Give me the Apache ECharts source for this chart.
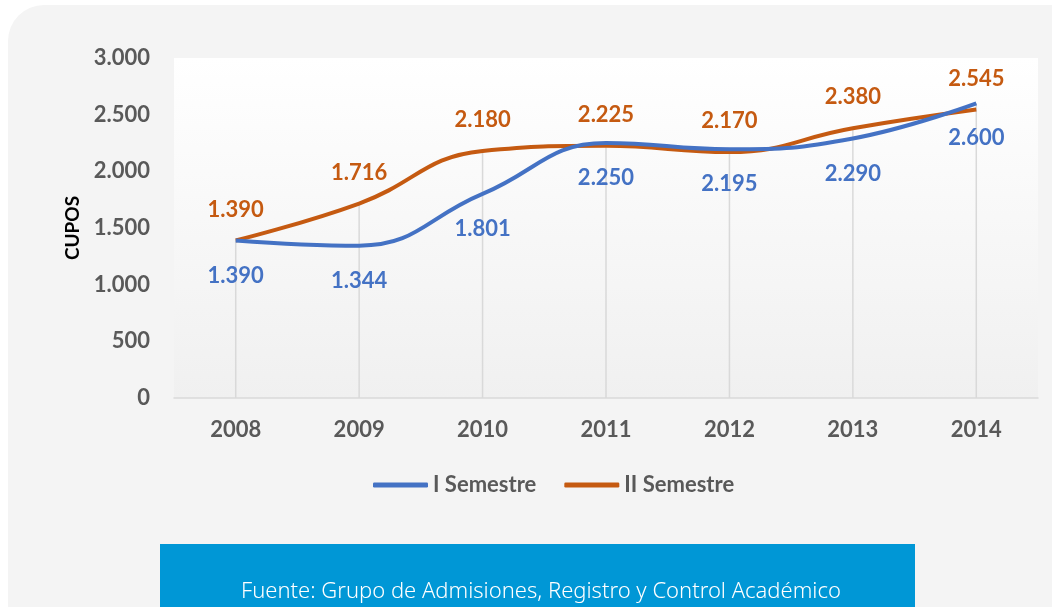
<!DOCTYPE html>
<html>
<head>
<meta charset="utf-8">
<script src="https://cdn.jsdelivr.net/npm/echarts@6/dist/echarts.min.js"></script>
<style>
  html, body { margin: 0; padding: 0; background: #fff; }
  #chart { width: 1052px; height: 607px; }
</style>
</head>
<body>
<div id="chart"></div>
<script>
const years = ['2008', '2009', '2010', '2011', '2012', '2013', '2014'];
const semestre1 = [1390, 1344, 1801, 2250, 2195, 2290, 2600];
const semestre2 = [1390, 1716, 2180, 2225, 2170, 2380, 2545];
const yTicks = [0, 500, 1000, 1500, 2000, 2500, 3000];

// drop lines go from the highest point of each year down to the axis
const dropTop = years.map((y, i) => Math.max(semestre1[i], semestre2[i]));

const fmt = v => String(v).replace(/\B(?=(\d{3})+(?!\d))/g, '.');
const font = 'Lato, "Open Sans", sans-serif';

const option = {
    animation: false,
    backgroundColor: '#fff',
    graphic: [
        {type: 'rect', z: -10, shape: {x: 8, y: 5, width: 1080, height: 640, r: 36}, style: {fill: '#f4f4f4'}},
        {type: 'rect', shape: {x: 160, y: 544, width: 755, height: 70}, style: {fill: '#0097d6'}},
        {type: 'text', x: 541, y: 592, style: {
            text: 'Fuente: Grupo de Admisiones, Registro y Control Académico',
            fill: '#fff', font: '300 22px "Noto Sans", sans-serif', align: 'center', verticalAlign: 'middle'
        }}
    ],
    grid: {
        left: 174, right: 14, top: 58, bottom: 209, show: true, borderWidth: 0,
        backgroundColor: new echarts.graphic.LinearGradient(0, 0, 0, 1, [
            {offset: 0, color: '#ffffff'}, {offset: 1, color: '#f0f0f0'}
        ])
    },
    legend: {
        data: ['I Semestre', 'II Semestre'],
        left: 368, top: 469,
        icon: 'roundRect', itemWidth: 55, itemHeight: 5, itemGap: 28,
        textStyle: {fontFamily: font, fontWeight: 'bold', fontSize: 22, color: '#595959'}
    },
    xAxis: {
        type: 'category',
        data: years,
        axisLine: {lineStyle: {color: '#d9d9d9', width: 1.5}},
        axisTick: {show: false},
        axisLabel: {margin: 21, fontFamily: font, fontWeight: 'bold', fontSize: 22, color: '#595959'}
    },
    yAxis: {
        type: 'value',
        min: yTicks[0], max: yTicks[yTicks.length - 1], interval: 500,
        name: 'CUPOS', nameLocation: 'middle', nameGap: 92, nameRotate: 90,
        nameTextStyle: {fontFamily: font, fontWeight: 'bold', fontSize: 19, color: '#000'},
        axisLine: {show: false},
        axisTick: {show: false},
        splitLine: {show: false},
        axisLabel: {margin: 24, fontFamily: font, fontWeight: 'bold', fontSize: 22, color: '#595959', formatter: fmt}
    },
    series: [
        {
            name: 'drop', type: 'bar', data: dropTop, barWidth: 1.5, silent: true, z: 1,
            itemStyle: {color: '#d9d9d9'}
        },
        {
            name: 'I Semestre', type: 'line', data: semestre1, smooth: 0.45,
            symbol: 'circle', symbolSize: 0, showSymbol: true, z: 3,
            lineStyle: {color: '#4472c4', width: 4}, itemStyle: {color: '#4472c4'},
            label: {show: true, position: 'bottom', distance: 24, formatter: p => fmt(p.value),
                fontFamily: font, fontWeight: 'bold', fontSize: 22, color: '#4472c4'}
        },
        {
            name: 'II Semestre', type: 'line', data: semestre2, smooth: 0.45,
            symbol: 'circle', symbolSize: 0, showSymbol: true, z: 2,
            lineStyle: {color: '#c55a11', width: 4}, itemStyle: {color: '#c55a11'},
            label: {show: true, position: 'top', distance: 20, formatter: p => fmt(p.value),
                fontFamily: font, fontWeight: 'bold', fontSize: 22, color: '#c55a11'}
        }
    ]
};

const myChart = echarts.init(document.getElementById('chart'));
myChart.setOption(option);
</script>
</body>
</html>
